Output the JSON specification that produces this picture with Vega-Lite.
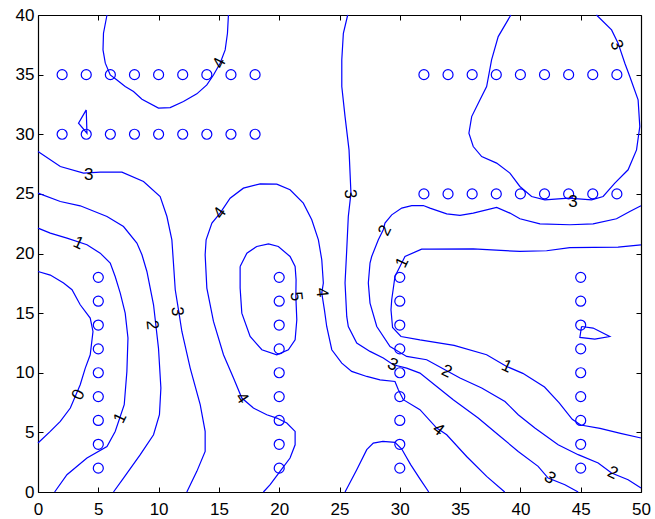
{
  "$schema": "https://vega.github.io/schema/vega-lite/v6.json",
  "width": 603,
  "height": 477,
  "autosize": {"type": "none"},
  "padding": {"left": 38, "top": 15, "right": 14, "bottom": 27},
  "background": "white",
  "config": {
    "view": {"stroke": null},
    "axis": {"grid": false, "title": null, "domainColor": "black", "tickColor": "black", "labelColor": "black", "labelFont": "Liberation Sans", "labelFontSize": 17, "labelFlush": false, "labelOverlap": false, "tickSize": -5, "domainWidth": 1.2, "tickWidth": 1}
  },
  "datasets": {
    "lines": [
      {"id":"a","i":0,"x":0,"y":28.55},{"id":"a","i":1,"x":1.85,"y":27.29},{"id":"a","i":2,"x":3.78,"y":26.74},{"id":"a","i":3,"x":5.16,"y":26.82},{"id":"a","i":4,"x":6.96,"y":26.82},{"id":"a","i":5,"x":8.75,"y":26.04},{"id":"a","i":6,"x":10.13,"y":24.78},{"id":"a","i":7,"x":10.69,"y":23.1},{"id":"a","i":8,"x":11.1,"y":21.15},{"id":"a","i":9,"x":11.23,"y":19.22},{"id":"a","i":10,"x":11.38,"y":16.96},{"id":"a","i":11,"x":11.65,"y":15.28},{"id":"a","i":12,"x":11.93,"y":13.46},{"id":"a","i":13,"x":12.62,"y":10.39},{"id":"a","i":14,"x":13.45,"y":7.32},{"id":"a","i":15,"x":13.86,"y":5.08},{"id":"a","i":16,"x":13.86,"y":3.4},{"id":"a","i":17,"x":13.17,"y":1.73},{"id":"a","i":18,"x":12.34,"y":0},
      {"id":"b","i":0,"x":0,"y":25.06},{"id":"b","i":1,"x":1.85,"y":24.36},{"id":"b","i":2,"x":3.5,"y":24.0},{"id":"b","i":3,"x":5.72,"y":23.1},{"id":"b","i":4,"x":7.09,"y":22.26},{"id":"b","i":5,"x":8.2,"y":20.87},{"id":"b","i":6,"x":8.62,"y":19.89},{"id":"b","i":7,"x":9.03,"y":18.49},{"id":"b","i":8,"x":9.58,"y":15.7},{"id":"b","i":9,"x":9.99,"y":12.07},{"id":"b","i":10,"x":10.19,"y":8.72},{"id":"b","i":11,"x":10.07,"y":6.48},{"id":"b","i":12,"x":9.58,"y":4.8},{"id":"b","i":13,"x":8.48,"y":3.13},{"id":"b","i":14,"x":7.09,"y":1.17},{"id":"b","i":15,"x":6.26,"y":0},
      {"id":"c","i":0,"x":0,"y":22.13},{"id":"c","i":1,"x":1.02,"y":21.71},{"id":"c","i":2,"x":2.4,"y":21.29},{"id":"c","i":3,"x":4.06,"y":20.73},{"id":"c","i":4,"x":5.16,"y":20.03},{"id":"c","i":5,"x":5.99,"y":19.2},{"id":"c","i":6,"x":6.4,"y":18.07},{"id":"c","i":7,"x":6.82,"y":16.68},{"id":"c","i":8,"x":7.23,"y":15.0},{"id":"c","i":9,"x":7.46,"y":12.91},{"id":"c","i":10,"x":7.37,"y":10.11},{"id":"c","i":11,"x":7.15,"y":7.32},{"id":"c","i":12,"x":6.4,"y":5.08},{"id":"c","i":13,"x":5.72,"y":3.82},{"id":"c","i":14,"x":4.06,"y":2.85},{"id":"c","i":15,"x":2.4,"y":1.45},{"id":"c","i":16,"x":1.38,"y":0},
      {"id":"d","i":0,"x":0,"y":18.49},{"id":"d","i":1,"x":1.02,"y":18.19},{"id":"d","i":2,"x":2.12,"y":17.52},{"id":"d","i":3,"x":2.82,"y":16.96},{"id":"d","i":4,"x":3.5,"y":15.7},{"id":"d","i":5,"x":4.33,"y":14.59},{"id":"d","i":6,"x":4.56,"y":13.46},{"id":"d","i":7,"x":4.33,"y":11.51},{"id":"d","i":8,"x":3.92,"y":10.39},{"id":"d","i":9,"x":3.5,"y":8.99},{"id":"d","i":10,"x":2.68,"y":7.04},{"id":"d","i":11,"x":1.85,"y":5.92},{"id":"d","i":12,"x":1.02,"y":5.08},{"id":"d","i":13,"x":0,"y":4.11},
      {"id":"e","i":0,"x":5.72,"y":40},{"id":"e","i":1,"x":5.43,"y":38.47},{"id":"e","i":2,"x":5.39,"y":37.07},{"id":"e","i":3,"x":5.58,"y":35.96},{"id":"e","i":4,"x":5.99,"y":34.97},{"id":"e","i":5,"x":6.55,"y":34.55},{"id":"e","i":6,"x":7.23,"y":34.0},{"id":"e","i":7,"x":7.92,"y":33.58},{"id":"e","i":8,"x":8.62,"y":32.94},{"id":"e","i":9,"x":9.99,"y":32.19},{"id":"e","i":10,"x":10.96,"y":32.24},{"id":"e","i":11,"x":12.06,"y":32.74},{"id":"e","i":12,"x":13.17,"y":33.39},{"id":"e","i":13,"x":14.0,"y":34.14},{"id":"e","i":14,"x":14.55,"y":34.97},{"id":"e","i":15,"x":15.1,"y":35.96},{"id":"e","i":16,"x":15.52,"y":37.07},{"id":"e","i":17,"x":15.71,"y":38.47},{"id":"e","i":18,"x":15.79,"y":40},
      {"id":"e2","i":0,"x":4.0,"y":32.04},{"id":"e2","i":1,"x":3.36,"y":30.93},{"id":"e2","i":2,"x":4.06,"y":30.09},{"id":"e2","i":3,"x":4.0,"y":32.04},
      {"id":"f","i":0,"x":18.69,"y":0},{"id":"f","i":1,"x":19.25,"y":0.61},{"id":"f","i":2,"x":20.07,"y":1.73},{"id":"f","i":3,"x":20.9,"y":2.85},{"id":"f","i":4,"x":21.32,"y":3.96},{"id":"f","i":5,"x":21.32,"y":5.08},{"id":"f","i":6,"x":20.63,"y":5.78},{"id":"f","i":7,"x":19.8,"y":6.2},{"id":"f","i":8,"x":18.97,"y":6.48},{"id":"f","i":9,"x":17.86,"y":7.04},{"id":"f","i":10,"x":16.9,"y":7.88},{"id":"f","i":11,"x":16.21,"y":9.56},{"id":"f","i":12,"x":15.38,"y":11.51},{"id":"f","i":13,"x":14.55,"y":14.3},{"id":"f","i":14,"x":14.0,"y":17.1},{"id":"f","i":15,"x":13.86,"y":19.89},{"id":"f","i":16,"x":13.94,"y":21.15},{"id":"f","i":17,"x":14.42,"y":22.55},{"id":"f","i":18,"x":15.1,"y":23.39},{"id":"f","i":19,"x":15.93,"y":24.64},{"id":"f","i":20,"x":17.03,"y":25.48},{"id":"f","i":21,"x":18.42,"y":25.84},{"id":"f","i":22,"x":19.8,"y":25.82},{"id":"f","i":23,"x":20.9,"y":25.34},{"id":"f","i":24,"x":22.0,"y":24.22},{"id":"f","i":25,"x":22.7,"y":22.83},{"id":"f","i":26,"x":23.25,"y":21.15},{"id":"f","i":27,"x":23.53,"y":19.47},{"id":"f","i":28,"x":23.66,"y":17.52},{"id":"f","i":29,"x":23.53,"y":16.68},{"id":"f","i":30,"x":23.75,"y":15.28},{"id":"f","i":31,"x":23.94,"y":13.88},{"id":"f","i":32,"x":24.36,"y":11.93},{"id":"f","i":33,"x":25.19,"y":10.81},{"id":"f","i":34,"x":26.01,"y":10.11},{"id":"f","i":35,"x":27.26,"y":9.69},{"id":"f","i":36,"x":28.36,"y":9.41},{"id":"f","i":37,"x":29.6,"y":9.27},{"id":"f","i":38,"x":29.88,"y":8.58},{"id":"f","i":39,"x":30.29,"y":7.74},{"id":"f","i":40,"x":31.67,"y":6.9},{"id":"f","i":41,"x":33.06,"y":5.36},{"id":"f","i":42,"x":33.89,"y":4.8},{"id":"f","i":43,"x":35.54,"y":2.98},{"id":"f","i":44,"x":37.2,"y":1.31},{"id":"f","i":45,"x":38.7,"y":0},
      {"id":"g","i":0,"x":16.76,"y":18.91},{"id":"g","i":1,"x":17.32,"y":20.03},{"id":"g","i":2,"x":18.14,"y":20.59},{"id":"g","i":3,"x":19.11,"y":20.81},{"id":"g","i":4,"x":19.93,"y":20.59},{"id":"g","i":5,"x":20.9,"y":19.75},{"id":"g","i":6,"x":21.32,"y":18.91},{"id":"g","i":7,"x":21.4,"y":17.81},{"id":"g","i":8,"x":21.38,"y":16.4},{"id":"g","i":9,"x":21.46,"y":14.44},{"id":"g","i":10,"x":21.32,"y":12.77},{"id":"g","i":11,"x":20.76,"y":11.93},{"id":"g","i":12,"x":19.8,"y":11.51},{"id":"g","i":13,"x":18.56,"y":11.93},{"id":"g","i":14,"x":17.59,"y":13.04},{"id":"g","i":15,"x":16.9,"y":15.0},{"id":"g","i":16,"x":16.76,"y":17.1},{"id":"g","i":17,"x":16.76,"y":18.91},
      {"id":"h","i":0,"x":25.68,"y":40},{"id":"h","i":1,"x":25.32,"y":38.47},{"id":"h","i":2,"x":25.19,"y":36.24},{"id":"h","i":3,"x":25.19,"y":34.0},{"id":"h","i":4,"x":25.46,"y":31.48},{"id":"h","i":5,"x":25.79,"y":28.69},{"id":"h","i":6,"x":25.95,"y":25.06},{"id":"h","i":7,"x":25.73,"y":23.1},{"id":"h","i":8,"x":25.6,"y":20.31},{"id":"h","i":9,"x":25.46,"y":17.52},{"id":"h","i":10,"x":25.6,"y":14.72},{"id":"h","i":11,"x":25.73,"y":13.88},{"id":"h","i":12,"x":26.43,"y":12.49},{"id":"h","i":13,"x":27.53,"y":11.79},{"id":"h","i":14,"x":28.63,"y":11.23},{"id":"h","i":15,"x":29.46,"y":10.67},{"id":"h","i":16,"x":30.57,"y":10.39},{"id":"h","i":17,"x":31.67,"y":9.97},{"id":"h","i":18,"x":33.06,"y":8.85},{"id":"h","i":19,"x":34.43,"y":7.74},{"id":"h","i":20,"x":36.5,"y":6.2},{"id":"h","i":21,"x":38.16,"y":4.8},{"id":"h","i":22,"x":39.82,"y":3.4},{"id":"h","i":23,"x":41.47,"y":2.15},{"id":"h","i":24,"x":42.3,"y":1.17},{"id":"h","i":25,"x":43.69,"y":0.61},{"id":"h","i":26,"x":44.79,"y":0},
      {"id":"i","i":0,"x":50,"y":24.0},{"id":"i","i":1,"x":49.07,"y":23.52},{"id":"i","i":2,"x":47.97,"y":22.91},{"id":"i","i":3,"x":46.03,"y":22.49},{"id":"i","i":4,"x":44.1,"y":22.41},{"id":"i","i":5,"x":41.62,"y":22.49},{"id":"i","i":6,"x":39.96,"y":22.91},{"id":"i","i":7,"x":39.13,"y":23.39},{"id":"i","i":8,"x":38.03,"y":23.86},{"id":"i","i":9,"x":36.09,"y":23.39},{"id":"i","i":10,"x":34.99,"y":23.19},{"id":"i","i":11,"x":33.89,"y":23.33},{"id":"i","i":12,"x":32.5,"y":23.81},{"id":"i","i":13,"x":31.95,"y":24.02},{"id":"i","i":14,"x":30.99,"y":24.02},{"id":"i","i":15,"x":30.16,"y":23.81},{"id":"i","i":16,"x":29.33,"y":23.24},{"id":"i","i":17,"x":28.77,"y":22.55},{"id":"i","i":18,"x":28.63,"y":21.99},{"id":"i","i":19,"x":28.22,"y":21.15},{"id":"i","i":20,"x":27.67,"y":19.75},{"id":"i","i":21,"x":27.53,"y":19.2},{"id":"i","i":22,"x":27.39,"y":17.52},{"id":"i","i":23,"x":27.53,"y":15.84},{"id":"i","i":24,"x":28.09,"y":13.88},{"id":"i","i":25,"x":29.19,"y":12.2},{"id":"i","i":26,"x":30.57,"y":11.37},{"id":"i","i":27,"x":32.23,"y":11.09},{"id":"i","i":28,"x":33.74,"y":10.25},{"id":"i","i":29,"x":34.99,"y":9.56},{"id":"i","i":30,"x":36.79,"y":8.72},{"id":"i","i":31,"x":38.72,"y":7.59},{"id":"i","i":32,"x":39.82,"y":6.48},{"id":"i","i":33,"x":41.2,"y":5.36},{"id":"i","i":34,"x":43.13,"y":3.96},{"id":"i","i":35,"x":44.79,"y":3.13},{"id":"i","i":36,"x":46.45,"y":2.43},{"id":"i","i":37,"x":47.56,"y":1.59},{"id":"i","i":38,"x":48.93,"y":1.03},{"id":"i","i":39,"x":50,"y":0.34},
      {"id":"j","i":0,"x":50,"y":20.73},{"id":"j","i":1,"x":48.1,"y":20.54},{"id":"j","i":2,"x":44.1,"y":20.5},{"id":"j","i":3,"x":42.17,"y":20.23},{"id":"j","i":4,"x":39.96,"y":20.17},{"id":"j","i":5,"x":36.09,"y":20.39},{"id":"j","i":6,"x":32.5,"y":20.37},{"id":"j","i":7,"x":31.81,"y":20.37},{"id":"j","i":8,"x":30.43,"y":19.75},{"id":"j","i":9,"x":30.21,"y":19.3},{"id":"j","i":10,"x":29.6,"y":18.07},{"id":"j","i":11,"x":29.33,"y":16.12},{"id":"j","i":12,"x":29.27,"y":15.28},{"id":"j","i":13,"x":29.4,"y":13.8},{"id":"j","i":14,"x":30.1,"y":13.04},{"id":"j","i":15,"x":31.67,"y":12.75},{"id":"j","i":16,"x":34.5,"y":12.3},{"id":"j","i":17,"x":37.2,"y":11.51},{"id":"j","i":18,"x":38.86,"y":10.53},{"id":"j","i":19,"x":40.2,"y":9.95},{"id":"j","i":20,"x":42.0,"y":8.8},{"id":"j","i":21,"x":43.2,"y":7.5},{"id":"j","i":22,"x":44.3,"y":6.1},{"id":"j","i":23,"x":45.0,"y":5.62},{"id":"j","i":24,"x":46.6,"y":5.34},{"id":"j","i":25,"x":48.3,"y":4.92},{"id":"j","i":26,"x":50,"y":4.53},
      {"id":"k","i":0,"x":39.21,"y":40},{"id":"k","i":1,"x":38.16,"y":38.19},{"id":"k","i":2,"x":37.61,"y":36.24},{"id":"k","i":3,"x":37.2,"y":34.0},{"id":"k","i":4,"x":36.64,"y":32.88},{"id":"k","i":5,"x":35.96,"y":31.48},{"id":"k","i":6,"x":35.73,"y":30.09},{"id":"k","i":7,"x":36.09,"y":28.97},{"id":"k","i":8,"x":36.79,"y":28.13},{"id":"k","i":9,"x":38.03,"y":27.58},{"id":"k","i":10,"x":39.13,"y":26.74},{"id":"k","i":11,"x":39.96,"y":25.62},{"id":"k","i":12,"x":40.93,"y":24.78},{"id":"k","i":13,"x":42.03,"y":24.5},{"id":"k","i":14,"x":44.0,"y":24.64},{"id":"k","i":15,"x":45.9,"y":24.5},{"id":"k","i":16,"x":46.86,"y":24.78},{"id":"k","i":17,"x":47.83,"y":25.9},{"id":"k","i":18,"x":48.93,"y":27.02},{"id":"k","i":19,"x":49.63,"y":28.69},{"id":"k","i":20,"x":49.9,"y":30.65},{"id":"k","i":21,"x":49.76,"y":32.88},{"id":"k","i":22,"x":49.07,"y":34.84},{"id":"k","i":23,"x":48.66,"y":35.96},{"id":"k","i":24,"x":48.1,"y":37.64},{"id":"k","i":25,"x":47.56,"y":38.75},{"id":"k","i":26,"x":46.31,"y":40},
      {"id":"l","i":0,"x":25.46,"y":0},{"id":"l","i":1,"x":26.43,"y":1.87},{"id":"l","i":2,"x":27.26,"y":3.55},{"id":"l","i":3,"x":27.8,"y":4.1},{"id":"l","i":4,"x":28.6,"y":4.24},{"id":"l","i":5,"x":29.6,"y":4.16},{"id":"l","i":6,"x":30.16,"y":3.6},{"id":"l","i":7,"x":30.9,"y":2.3},{"id":"l","i":8,"x":31.67,"y":1.1},{"id":"l","i":9,"x":32.4,"y":0},
      {"id":"m","i":0,"x":45.07,"y":13.88},{"id":"m","i":1,"x":46.03,"y":13.75},{"id":"m","i":2,"x":47.41,"y":13.04},{"id":"m","i":3,"x":46.17,"y":12.82},{"id":"m","i":4,"x":44.93,"y":12.96},{"id":"m","i":5,"x":45.07,"y":13.88}
    ],
    "points": [
      {"x":2,"y":35},{"x":4,"y":35},{"x":6,"y":35},{"x":8,"y":35},{"x":10,"y":35},{"x":12,"y":35},{"x":14,"y":35},{"x":16,"y":35},{"x":18,"y":35},
      {"x":2,"y":30},{"x":4,"y":30},{"x":6,"y":30},{"x":8,"y":30},{"x":10,"y":30},{"x":12,"y":30},{"x":14,"y":30},{"x":16,"y":30},{"x":18,"y":30},
      {"x":32,"y":35},{"x":34,"y":35},{"x":36,"y":35},{"x":38,"y":35},{"x":40,"y":35},{"x":42,"y":35},{"x":44,"y":35},{"x":46,"y":35},{"x":48,"y":35},
      {"x":32,"y":25},{"x":34,"y":25},{"x":36,"y":25},{"x":38,"y":25},{"x":40,"y":25},{"x":42,"y":25},{"x":44,"y":25},{"x":46,"y":25},{"x":48,"y":25},
      {"x":5,"y":2},{"x":5,"y":4},{"x":5,"y":6},{"x":5,"y":8},{"x":5,"y":10},{"x":5,"y":12},{"x":5,"y":14},{"x":5,"y":16},{"x":5,"y":18},
      {"x":20,"y":2},{"x":20,"y":4},{"x":20,"y":6},{"x":20,"y":8},{"x":20,"y":10},{"x":20,"y":12},{"x":20,"y":14},{"x":20,"y":16},{"x":20,"y":18},
      {"x":30,"y":2},{"x":30,"y":4},{"x":30,"y":6},{"x":30,"y":8},{"x":30,"y":10},{"x":30,"y":12},{"x":30,"y":14},{"x":30,"y":16},{"x":30,"y":18},
      {"x":45,"y":2},{"x":45,"y":4},{"x":45,"y":6},{"x":45,"y":8},{"x":45,"y":10},{"x":45,"y":12},{"x":45,"y":14},{"x":45,"y":16},{"x":45,"y":18}
    ],
    "labels": [
      {"id":"L1","x":4.2,"y":26.6,"t":"3"},
      {"id":"L2","x":3.36,"y":20.87,"t":"1"},
      {"id":"L3","x":3.36,"y":8.16,"t":"0"},
      {"id":"L4","x":6.82,"y":6.2,"t":"1"},
      {"id":"L5","x":9.44,"y":14.02,"t":"2"},
      {"id":"L6","x":11.52,"y":15.14,"t":"3"},
      {"id":"L7","x":15.1,"y":23.39,"t":"4"},
      {"id":"L8","x":16.9,"y":7.88,"t":"4"},
      {"id":"L9","x":21.4,"y":16.4,"t":"5"},
      {"id":"L10","x":23.53,"y":16.73,"t":"4"},
      {"id":"L11","x":25.87,"y":25.0,"t":"3"},
      {"id":"L12","x":15.05,"y":35.96,"t":"4"},
      {"id":"L13","x":28.77,"y":21.93,"t":"2"},
      {"id":"L14","x":30.21,"y":19.25,"t":"1"},
      {"id":"L15","x":29.41,"y":10.67,"t":"3"},
      {"id":"L16","x":33.89,"y":10.11,"t":"2"},
      {"id":"L17","x":38.86,"y":10.53,"t":"1"},
      {"id":"L18","x":33.19,"y":5.22,"t":"4"},
      {"id":"L19","x":42.44,"y":1.17,"t":"3"},
      {"id":"L20","x":47.64,"y":1.59,"t":"2"},
      {"id":"L21","x":44.37,"y":24.36,"t":"3"},
      {"id":"L22","x":47.97,"y":37.49,"t":"3"}
    ]
  },
  "layer": [
    {
      "data": {"name": "lines"},
      "mark": {"type": "line", "color": "#0000ff", "strokeWidth": 1.2, "interpolate": "linear"},
      "encoding": {
        "x": {"field": "x", "type": "quantitative", "scale": {"domain": [0, 50], "nice": false, "zero": false}, "axis": {"orient": "bottom", "values": [0,5,10,15,20,25,30,35,40,45,50], "labelPadding": 14, "format": "d"}},
        "y": {"field": "y", "type": "quantitative", "scale": {"domain": [0, 40], "nice": false, "zero": false}, "axis": {"orient": "left", "values": [0,5,10,15,20,25,30,35,40], "labelPadding": 9, "format": "d"}},
        "detail": {"field": "id"},
        "order": {"field": "i"}
      }
    },
    {
      "data": {"name": "points"},
      "mark": {"type": "point", "shape": "circle", "filled": false, "color": "#0000ff", "strokeWidth": 1.2, "size": 100, "opacity": 1},
      "encoding": {
        "x": {"field": "x", "type": "quantitative", "scale": {"domain": [0, 50], "nice": false, "zero": false}, "axis": {"orient": "top", "values": [0,5,10,15,20,25,30,35,40,45,50], "labels": false}},
        "y": {"field": "y", "type": "quantitative", "scale": {"domain": [0, 40], "nice": false, "zero": false}, "axis": {"orient": "right", "values": [0,5,10,15,20,25,30,35,40], "labels": false}}
      }
    },
    {
      "data": {"name": "labels"},
      "transform": [{"filter": {"field": "id", "oneOf": ["L1", "L21"]}}],
      "mark": {"type": "text", "font": "Liberation Sans", "fontSize": 17, "color": "black", "align": "center", "baseline": "middle", "angle": 0},
      "encoding": {"x": {"field": "x", "type": "quantitative", "axis": null}, "y": {"field": "y", "type": "quantitative", "axis": null}, "text": {"field": "t"}}
    },
    {
      "data": {"name": "labels"},
      "transform": [{"filter": {"field": "id", "oneOf": ["L2", "L15", "L16", "L17", "L20"]}}],
      "mark": {"type": "text", "font": "Liberation Sans", "fontSize": 17, "color": "black", "align": "center", "baseline": "middle", "angle": 25},
      "encoding": {"x": {"field": "x", "type": "quantitative", "axis": null}, "y": {"field": "y", "type": "quantitative", "axis": null}, "text": {"field": "t"}}
    },
    {
      "data": {"name": "labels"},
      "transform": [{"filter": {"field": "id", "oneOf": ["L18", "L19"]}}],
      "mark": {"type": "text", "font": "Liberation Sans", "fontSize": 17, "color": "black", "align": "center", "baseline": "middle", "angle": 38},
      "encoding": {"x": {"field": "x", "type": "quantitative", "axis": null}, "y": {"field": "y", "type": "quantitative", "axis": null}, "text": {"field": "t"}}
    },
    {
      "data": {"name": "labels"},
      "transform": [{"filter": {"field": "id", "oneOf": ["L8"]}}],
      "mark": {"type": "text", "font": "Liberation Sans", "fontSize": 17, "color": "black", "align": "center", "baseline": "middle", "angle": 56},
      "encoding": {"x": {"field": "x", "type": "quantitative", "axis": null}, "y": {"field": "y", "type": "quantitative", "axis": null}, "text": {"field": "t"}}
    },
    {
      "data": {"name": "labels"},
      "transform": [{"filter": {"field": "id", "oneOf": ["L22"]}}],
      "mark": {"type": "text", "font": "Liberation Sans", "fontSize": 17, "color": "black", "align": "center", "baseline": "middle", "angle": 68},
      "encoding": {"x": {"field": "x", "type": "quantitative", "axis": null}, "y": {"field": "y", "type": "quantitative", "axis": null}, "text": {"field": "t"}}
    },
    {
      "data": {"name": "labels"},
      "transform": [{"filter": {"field": "id", "oneOf": ["L5", "L6", "L9", "L10", "L11"]}}],
      "mark": {"type": "text", "font": "Liberation Sans", "fontSize": 17, "color": "black", "align": "center", "baseline": "middle", "angle": 84},
      "encoding": {"x": {"field": "x", "type": "quantitative", "axis": null}, "y": {"field": "y", "type": "quantitative", "axis": null}, "text": {"field": "t"}}
    },
    {
      "data": {"name": "labels"},
      "transform": [{"filter": {"field": "id", "oneOf": ["L7"]}}],
      "mark": {"type": "text", "font": "Liberation Sans", "fontSize": 17, "color": "black", "align": "center", "baseline": "middle", "angle": -54},
      "encoding": {"x": {"field": "x", "type": "quantitative", "axis": null}, "y": {"field": "y", "type": "quantitative", "axis": null}, "text": {"field": "t"}}
    },
    {
      "data": {"name": "labels"},
      "transform": [{"filter": {"field": "id", "oneOf": ["L3", "L4", "L12", "L13", "L14"]}}],
      "mark": {"type": "text", "font": "Liberation Sans", "fontSize": 17, "color": "black", "align": "center", "baseline": "middle", "angle": -64},
      "encoding": {"x": {"field": "x", "type": "quantitative", "axis": null}, "y": {"field": "y", "type": "quantitative", "axis": null}, "text": {"field": "t"}}
    }
  ],
  "resolve": {"axis": {"x": "independent", "y": "independent"}}
}
